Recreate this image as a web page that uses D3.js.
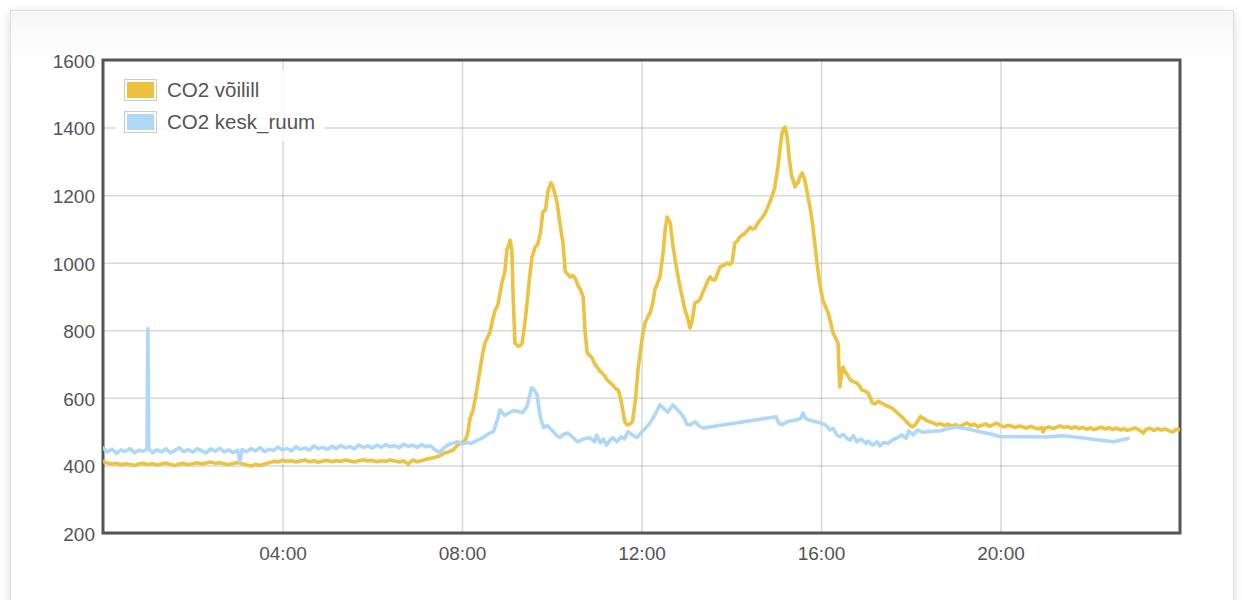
<!DOCTYPE html>
<html>
<head>
<meta charset="utf-8">
<script src="https://cdn.jsdelivr.net/npm/d3@7"></script>
<style>
  body { margin: 0; background: #fff; font-family: "Liberation Sans", Arial, sans-serif; }
  .demo-container {
    position: absolute; left: 10px; top: 10px; width: 1224px; height: 660px;
    box-sizing: border-box; border: 1px solid #ddd;
    background: linear-gradient(#f6f6f6 0, #fff 50px);
    box-shadow: 0 3px 10px rgba(0,0,0,0.15);
  }
  #chart { position: absolute; left: 0; top: 0; }
</style>
</head>
<body>
<div class="demo-container"></div>
<svg id="chart" width="1242" height="600"></svg>
<script>
var seriesNames = ["CO2 võilill", "CO2 kesk_ruum"];
var seriesColors = ["#edc240", "#afd8f8"];
var yTicks = [200, 400, 600, 800, 1000, 1200, 1400, 1600];
var xTicks = [4, 8, 12, 16, 20]; // hours of the day

// [hour, ppm]
var voililPoints = [
  [0.0,412],[0.1,407],[0.2,404],[0.3,406],[0.4,402],[0.5,405],[0.6,403],[0.7,400],[0.8,404],[0.9,406],
  [1.0,403],[1.1,405],[1.2,401],[1.3,404],[1.4,407],[1.5,403],[1.6,400],[1.7,404],[1.8,406],[1.9,402],
  [2.0,405],[2.1,408],[2.2,404],[2.3,407],[2.4,410],[2.5,406],[2.6,408],[2.7,405],[2.8,402],[2.9,406],
  [3.0,409],[3.1,405],[3.2,401],[3.3,398],[3.4,403],[3.5,400],[3.6,404],[3.7,408],[3.8,412],[3.9,410],
  [4.0,415],[4.1,412],[4.2,414],[4.3,410],[4.4,413],[4.5,416],[4.6,411],[4.7,414],[4.8,409],[4.9,413],
  [5.0,415],[5.1,411],[5.2,414],[5.3,412],[5.4,416],[5.5,413],[5.6,410],[5.7,414],[5.8,417],[5.9,413],
  [6.0,415],[6.1,411],[6.2,414],[6.3,412],[6.4,416],[6.5,413],[6.6,410],[6.7,414],[6.8,404],[6.9,416],
  [7.0,411],[7.1,414],[7.2,418],[7.3,421],[7.4,424],[7.5,428],[7.6,436],[7.7,440],[7.8,445],[7.9,460],
  [8.0,468],[8.07,475],[8.12,490],[8.18,540],[8.24,560],[8.29,594],[8.35,640],[8.40,683],[8.46,730],
  [8.51,762],[8.57,780],[8.62,792],[8.68,830],[8.74,860],[8.80,875],[8.85,910],[8.89,940],[8.96,978],
  [9.00,1040],[9.04,1050],[9.07,1067],[9.11,1040],[9.14,900],[9.18,762],[9.25,753],[9.30,755],[9.34,762],
  [9.40,820],[9.45,881],[9.50,950],[9.56,1017],[9.63,1046],[9.69,1055],[9.75,1090],[9.80,1150],[9.86,1156],
  [9.92,1215],[9.98,1236],[10.03,1224],[10.12,1177],[10.18,1118],[10.25,1058],[10.30,975],[10.36,965],
  [10.41,958],[10.47,962],[10.52,955],[10.58,934],[10.64,920],[10.70,899],[10.74,800],[10.79,733],
  [10.85,725],[10.90,718],[10.96,700],[11.01,691],[11.07,680],[11.12,674],[11.18,665],[11.23,653],
  [11.30,645],[11.36,638],[11.42,628],[11.48,623],[11.53,600],[11.57,573],[11.63,529],[11.68,520],
  [11.74,522],[11.80,530],[11.87,600],[11.92,680],[11.97,733],[12.03,790],[12.08,822],[12.14,840],
  [12.19,851],[12.25,880],[12.30,920],[12.36,940],[12.41,958],[12.48,1029],[12.53,1100],[12.57,1135],
  [12.64,1117],[12.70,1050],[12.75,1008],[12.80,970],[12.86,928],[12.92,890],[12.97,860],[13.02,840],
  [13.08,807],[13.13,830],[13.19,881],[13.25,885],[13.30,890],[13.36,910],[13.42,928],[13.47,945],
  [13.53,958],[13.58,950],[13.64,949],[13.70,970],[13.75,988],[13.83,992],[13.91,999],[13.97,995],
  [14.02,1002],[14.08,1058],[14.14,1065],[14.19,1076],[14.25,1082],[14.31,1088],[14.36,1095],[14.42,1105],
  [14.48,1100],[14.53,1102],[14.58,1115],[14.64,1126],[14.70,1135],[14.75,1146],[14.80,1160],[14.86,1179],
  [14.92,1200],[14.97,1224],[15.04,1283],[15.09,1340],[15.13,1383],[15.17,1398],[15.20,1401],[15.23,1385],
  [15.26,1354],[15.30,1300],[15.35,1253],[15.39,1240],[15.42,1224],[15.46,1235],[15.49,1236],[15.53,1255],
  [15.58,1266],[15.64,1245],[15.71,1194],[15.76,1160],[15.80,1126],[15.86,1060],[15.91,999],[15.97,940],
  [16.04,890],[16.10,870],[16.16,851],[16.22,820],[16.27,792],[16.33,775],[16.38,762],[16.40,690],
  [16.42,632],[16.45,660],[16.49,691],[16.55,675],[16.60,665],[16.65,653],[16.72,648],[16.80,644],
  [16.86,635],[16.91,623],[16.98,620],[17.05,614],[17.10,600],[17.14,585],[17.20,582],[17.28,590],
  [17.33,585],[17.38,582],[17.45,578],[17.52,573],[17.60,568],[17.68,558],[17.75,550],[17.83,540],
  [17.90,530],[17.97,520],[18.03,514],[18.10,520],[18.17,535],[18.22,545],[18.27,540],[18.33,535],
  [18.40,530],[18.50,526],[18.58,520],[18.66,524],[18.75,518],[18.83,522],[18.92,516],[19.0,521],
  [19.08,515],[19.17,520],[19.25,526],[19.33,518],[19.42,522],[19.5,514],[19.58,519],[19.67,523],
  [19.75,516],[19.83,520],[19.92,525],[20.0,518],[20.08,514],[20.17,519],[20.25,516],[20.33,512],
  [20.42,517],[20.5,514],[20.58,510],[20.67,516],[20.75,512],[20.83,508],[20.92,512],[20.95,499],
  [21.0,511],[21.08,514],[21.17,509],[21.25,513],[21.33,517],[21.42,512],[21.5,515],[21.58,510],
  [21.67,514],[21.75,509],[21.83,513],[21.92,507],[22.0,511],[22.08,506],[22.17,510],[22.25,513],
  [22.33,508],[22.42,512],[22.5,506],[22.58,510],[22.67,505],[22.75,509],[22.83,504],[22.92,508],
  [23.0,511],[23.08,506],[23.18,496],[23.25,507],[23.33,510],[23.42,504],[23.5,509],[23.58,505],
  [23.67,508],[23.75,503],[23.84,499],[23.92,507],[24.0,506]
];

var keskPoints = [
  [0.0,452],[0.1,440],[0.2,448],[0.3,436],[0.4,446],[0.5,441],[0.6,450],[0.7,438],[0.8,445],[0.9,442],
  [0.98,448],[1.0,805],[1.02,450],[1.1,438],[1.2,446],[1.3,440],[1.4,449],[1.5,437],[1.6,444],[1.7,452],
  [1.8,441],[1.9,447],[2.0,439],[2.1,450],[2.2,443],[2.3,437],[2.4,449],[2.5,442],[2.6,451],[2.7,440],
  [2.8,446],[2.9,438],[3.0,445],[3.05,412],[3.1,447],[3.2,440],[3.3,450],[3.4,443],[3.5,453],[3.6,441],
  [3.7,448],[3.8,444],[3.9,454],[4.0,446],[4.1,450],[4.2,443],[4.3,455],[4.4,447],[4.5,452],[4.6,445],
  [4.7,458],[4.8,449],[4.9,454],[5.0,447],[5.1,457],[5.2,450],[5.3,459],[5.4,452],[5.5,456],[5.6,449],
  [5.7,461],[5.8,453],[5.9,458],[6.0,451],[6.1,460],[6.2,454],[6.3,462],[6.4,455],[6.5,459],[6.6,452],
  [6.7,463],[6.8,456],[6.9,460],[7.0,453],[7.1,462],[7.2,455],[7.3,458],[7.4,446],[7.5,438],[7.6,452],
  [7.7,462],[7.8,466],[7.9,470],[8.0,463],[8.1,468],[8.2,465],[8.3,472],[8.4,478],[8.5,485],[8.6,495],
  [8.7,500],[8.8,540],[8.85,564],[8.95,548],[9.05,556],[9.15,562],[9.25,560],[9.35,556],[9.45,575],
  [9.55,630],[9.6,625],[9.67,610],[9.75,540],[9.82,512],[9.9,518],[10.0,505],[10.1,490],[10.18,482],
  [10.26,492],[10.36,496],[10.45,485],[10.58,470],[10.7,478],[10.85,482],[10.95,470],[11.0,490],
  [11.08,467],[11.15,478],[11.22,460],[11.3,475],[11.36,482],[11.45,470],[11.55,485],[11.62,478],
  [11.7,500],[11.8,490],[11.9,482],[12.0,498],[12.1,512],[12.19,526],[12.3,550],[12.41,579],[12.5,568],
  [12.59,558],[12.7,579],[12.8,565],[12.9,550],[12.97,535],[13.01,522],[13.08,520],[13.19,529],
  [13.3,515],[13.37,511],[15.0,544],[15.06,525],[15.13,520],[15.24,529],[15.35,532],[15.47,535],
  [15.55,540],[15.6,555],[15.65,540],[15.71,535],[15.85,530],[15.98,526],[16.1,520],[16.2,505],
  [16.27,510],[16.35,490],[16.42,485],[16.5,492],[16.58,480],[16.65,475],[16.72,488],[16.8,470],
  [16.9,478],[17.0,465],[17.05,472],[17.15,460],[17.25,470],[17.31,458],[17.4,468],[17.5,465],
  [17.6,476],[17.7,482],[17.8,490],[17.9,480],[17.95,502],[18.05,490],[18.15,505],[18.27,498],
  [18.4,500],[18.55,502],[18.65,502],[18.8,508],[19.03,514],[19.3,507],[19.54,500],[19.8,492],
  [20.0,485],[20.5,485],[21.04,484],[21.39,488],[21.8,482],[22.15,476],[22.51,470],[22.84,480]
];

var series = [voililPoints, keskPoints];

var plotLeft = 103, plotTop = 60, plotRight = 1180, plotBottom = 533;
var day0 = Date.UTC(2000, 0, 1);
function toDate(h) { return new Date(day0 + h * 3600000); }

var x = d3.scaleUtc().domain([toDate(0), toDate(24)]).range([plotLeft, plotRight]);
var y = d3.scaleLinear().domain([200, 1600]).range([plotBottom, plotTop]);

var svg = d3.select("#chart");

// plot background
svg.append("rect")
    .attr("x", plotLeft).attr("y", plotTop)
    .attr("width", plotRight - plotLeft).attr("height", plotBottom - plotTop)
    .attr("fill", "#fff");

// axes with grid lines
var xAxis = svg.append("g")
    .attr("transform", "translate(0," + plotBottom + ")")
    .call(d3.axisBottom(x)
        .tickValues(xTicks.map(toDate))
        .tickFormat(d3.utcFormat("%H:%M"))
        .tickSize(-(plotBottom - plotTop))
        .tickPadding(14));

var yAxis = svg.append("g")
    .attr("transform", "translate(" + plotLeft + ",0)")
    .call(d3.axisLeft(y)
        .tickValues(yTicks)
        .tickFormat(d3.format("d"))
        .tickSize(-(plotRight - plotLeft))
        .tickPadding(8));

[xAxis, yAxis].forEach(function(ax) {
    ax.select(".domain").remove();
    ax.selectAll(".tick line")
        .attr("stroke", "#545454")
        .attr("stroke-opacity", 0.22)
        .attr("stroke-width", 1.5);
    ax.selectAll(".tick text")
        .attr("fill", "#545454")
        .attr("font-size", "19px")
        .attr("font-family", "'Liberation Sans', Arial, sans-serif");
});
yAxis.selectAll(".tick text").attr("dy", "0.39em");

// border
svg.append("rect")
    .attr("x", plotLeft).attr("y", plotTop)
    .attr("width", plotRight - plotLeft).attr("height", plotBottom - plotTop)
    .attr("fill", "none")
    .attr("stroke", "#545454")
    .attr("stroke-width", 3);

svg.append("clipPath").attr("id", "clip")
  .append("rect")
    .attr("x", plotLeft).attr("y", plotTop - 2)
    .attr("width", plotRight - plotLeft).attr("height", plotBottom - plotTop + 4);

var line = d3.line()
    .x(function(d) { return x(toDate(d[0])); })
    .y(function(d) { return y(d[1]); });

svg.append("g").attr("clip-path", "url(#clip)")
  .selectAll("path")
  .data(series)
  .enter().append("path")
    .attr("d", line)
    .attr("fill", "none")
    .attr("stroke", function(d, i) { return seriesColors[i]; })
    .attr("stroke-width", 3.6)
    .attr("stroke-linejoin", "round")
    .attr("stroke-linecap", "round");

// legend
var legend = svg.append("g");
legend.append("rect")
    .attr("x", 115).attr("y", 70)
    .attr("width", 210).attr("height", 71)
    .attr("fill", "#fff")
    .attr("opacity", 0.85);

var rows = legend.selectAll("g.row")
    .data(seriesNames)
    .enter().append("g")
    .attr("class", "row")
    .attr("transform", function(d, i) { return "translate(0," + (i * 32) + ")"; });

rows.append("rect")
    .attr("x", 124.5).attr("y", 79.5)
    .attr("width", 32).attr("height", 21)
    .attr("fill", "#fff")
    .attr("stroke", "#ccc");
rows.append("rect")
    .attr("x", 127).attr("y", 82)
    .attr("width", 27).attr("height", 16)
    .attr("fill", function(d, i) { return seriesColors[i]; });
rows.append("text")
    .attr("x", 167).attr("y", 97)
    .attr("fill", "#545454")
    .attr("font-size", "20.5px")
    .attr("font-family", "'Liberation Sans', Arial, sans-serif")
    .text(function(d) { return d; });
</script>
</body>
</html>
